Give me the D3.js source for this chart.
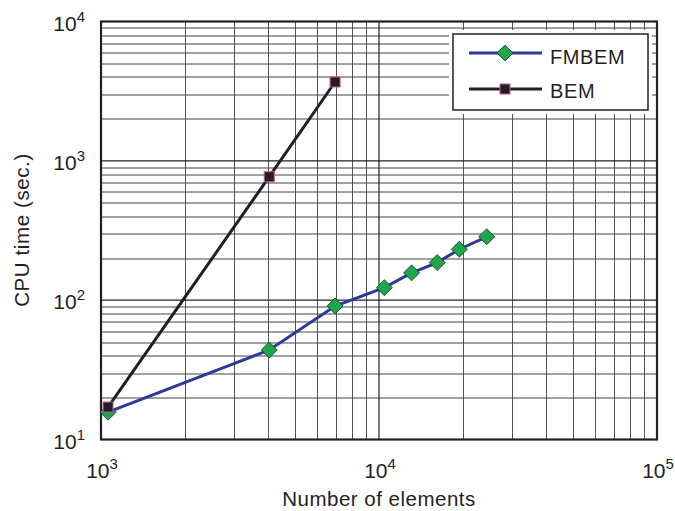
<!DOCTYPE html>
<html>
<head>
<meta charset="utf-8">
<script src="https://cdn.jsdelivr.net/npm/d3@7"></script>
<style>
  body { margin: 0; background: #fff; }
  text { font-family: "Liberation Sans", Arial, sans-serif; fill: #231f20; }
</style>
</head>
<body>
<svg id="chart" width="675" height="511"></svg>
<script>
// data
var fmbemN = [1060, 4030, 6950, 10450, 13100, 16200, 19450, 24400];
var fmbemT = [15.7, 43.9, 90.8, 123, 157, 186, 232, 285];
var bemN = [1060, 4030, 6950];
var bemT = [17.1, 769, 3680];
var xTickExp = [3, 4, 5];
var yTickExp = [1, 2, 3, 4];

var pad = {left: 101, top: 21.5, right: 18, bottom: 71.5};
var W = 675, H = 511;
var w = W - pad.left - pad.right;
var h = H - pad.top - pad.bottom;

var svg = d3.select("#chart");
var g = svg.append("g").attr("transform", "translate(" + pad.left + "," + pad.top + ")");

var x = d3.scaleLog().domain([1e3, 1e5]).range([0, w]);
var y = d3.scaleLog().domain([1e1, 1e4]).range([h, 0]);

// grid, minor then major
var minorX = [], minorY = [];
[1e3, 1e4].forEach(function(d) { for (var k = 2; k <= 9; k++) minorX.push(d * k); });
[1e1, 1e2, 1e3].forEach(function(d) { for (var k = 2; k <= 9; k++) minorY.push(d * k); });

g.selectAll(".gx").data(minorX).enter().append("line")
  .attr("x1", d => Math.round(x(d)) + 0.5).attr("x2", d => Math.round(x(d)) + 0.5)
  .attr("y1", 0).attr("y2", h)
  .attr("stroke", "#555").attr("stroke-width", 1);
g.selectAll(".gy").data(minorY).enter().append("line")
  .attr("y1", d => Math.round(y(d)) + 0.5).attr("y2", d => Math.round(y(d)) + 0.5)
  .attr("x1", 0).attr("x2", w)
  .attr("stroke", "#444").attr("stroke-width", 1);
g.selectAll(".mx").data([1e4]).enter().append("line")
  .attr("x1", d => x(d)).attr("x2", d => x(d)).attr("y1", 0).attr("y2", h)
  .attr("stroke", "#222").attr("stroke-width", 1.2);
g.selectAll(".my").data([1e2, 1e3]).enter().append("line")
  .attr("y1", d => y(d)).attr("y2", d => y(d)).attr("x1", 0).attr("x2", w)
  .attr("stroke", "#222").attr("stroke-width", 1.2);

// legend (white box drawn before the frame)
var leg = g.append("g").attr("transform", "translate(" + (453 - pad.left) + "," + (34 - pad.top) + ")");
leg.append("rect").attr("x", -4).attr("y", -4).attr("width", 203).attr("height", 84).attr("fill", "#fff");
leg.append("rect").attr("x", 0).attr("y", 0).attr("width", 195).attr("height", 76)
  .attr("fill", "#fff").attr("stroke", "#231f20").attr("stroke-width", 1.5);

// frame
g.append("rect").attr("x", 0).attr("y", 0).attr("width", w).attr("height", h)
  .attr("fill", "none").attr("stroke", "#231f20").attr("stroke-width", 2.2);

var line = d3.line().x(d => x(d[0])).y(d => y(d[1]));
var fm = fmbemN.map((n, i) => [n, fmbemT[i]]);
var bm = bemN.map((n, i) => [n, bemT[i]]);

var diamond = "M0,-8L8,0L0,8L-8,0Z";

g.append("path").datum(bm).attr("d", line).attr("fill", "none")
  .attr("stroke", "#231f20").attr("stroke-width", 3);
g.append("path").datum(fm).attr("d", line).attr("fill", "none")
  .attr("stroke", "#2b3a9b").attr("stroke-width", 3);

g.selectAll(".fmpt").data(fm).enter().append("path")
  .attr("d", diamond)
  .attr("transform", d => "translate(" + x(d[0]) + "," + y(d[1]) + ")")
  .attr("fill", "#1fa64b").attr("stroke", "#1b3320").attr("stroke-width", 0.8);
g.selectAll(".bmpt").data(bm).enter().append("rect")
  .attr("x", d => x(d[0]) - 5).attr("y", d => y(d[1]) - 5)
  .attr("width", 10).attr("height", 10)
  .attr("fill", "#231f20").attr("stroke", "#c2559a").attr("stroke-width", 1);

// legend entries
leg.append("line").attr("x1", 16).attr("x2", 89).attr("y1", 19).attr("y2", 19)
  .attr("stroke", "#2b3a9b").attr("stroke-width", 3);
leg.append("path").attr("d", diamond).attr("transform", "translate(52,19)")
  .attr("fill", "#1fa64b").attr("stroke", "#1b3320").attr("stroke-width", 0.8);
leg.append("text").attr("x", 97).attr("y", 30).style("font-size", "20px")
  .style("letter-spacing", "0.6px").text("FMBEM");
leg.append("line").attr("x1", 16).attr("x2", 89).attr("y1", 55).attr("y2", 55)
  .attr("stroke", "#231f20").attr("stroke-width", 3);
leg.append("rect").attr("x", 47).attr("y", 50).attr("width", 10).attr("height", 10)
  .attr("fill", "#231f20").attr("stroke", "#c2559a").attr("stroke-width", 1);
leg.append("text").attr("x", 97).attr("y", 64).style("font-size", "20px")
  .style("letter-spacing", "0.6px").text("BEM");

// tick labels
function powLabel(sel, e) {
  sel.append("tspan").text("10");
  sel.append("tspan").attr("dy", -9).style("font-size", "15px").text(e);
}
g.selectAll(".xt").data(xTickExp).enter().append("text")
  .attr("x", d => x(Math.pow(10, d)) + 1).attr("y", h + 38)
  .attr("text-anchor", "middle").style("font-size", "21px")
  .each(function(d) { powLabel(d3.select(this), d); });
g.selectAll(".yt").data(yTickExp).enter().append("text")
  .attr("x", -16).attr("y", d => y(Math.pow(10, d)) + 9)
  .attr("text-anchor", "end").style("font-size", "21px")
  .each(function(d) { powLabel(d3.select(this), d); });

// axis titles
svg.append("text").attr("x", 379).attr("y", 506).attr("text-anchor", "middle")
  .style("font-size", "20.5px").style("letter-spacing", "0.5px").text("Number of elements");
svg.append("text").attr("transform", "translate(29,230) rotate(-90)")
  .attr("text-anchor", "middle").style("font-size", "20.5px")
  .style("letter-spacing", "0.6px").text("CPU time (sec.)");
</script>
</body>
</html>
